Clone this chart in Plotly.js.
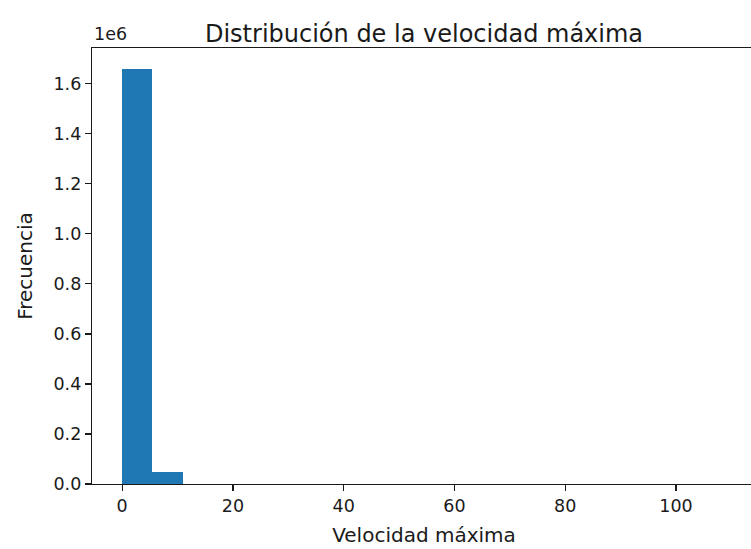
<!DOCTYPE html>
<html>
<head>
<meta charset="utf-8">
<script src="https://cdn.plot.ly/plotly-3.0.1.min.js"></script>
<style>
  html, body { margin: 0; padding: 0; background: #fff; overflow: hidden; }
  #chart { width: 760px; height: 549px; }
</style>
</head>
<body>
<div id="chart"></div>
<script>
// Histogram of maximum speed: 20 equal-width bins
const binStart = 0;
const binWidth = 5.45;
const binCounts = [1660000, 49000, 600, 250, 120, 60, 30, 20, 12, 8,
                   6, 4, 3, 2, 2, 1, 1, 1, 0, 1];

const yTickVals = [0, 200000, 400000, 600000, 800000, 1000000, 1200000, 1400000, 1600000];
const yTickText = ["0.0", "0.2", "0.4", "0.6", "0.8", "1.0", "1.2", "1.4", "1.6"];
const xTickVals = [0, 20, 40, 60, 80, 100];
const xTickText = ["0", "20", "40", "60", "80", "100"];

const titleText = "Distribución de la velocidad máxima";
const xTitle = "Velocidad máxima";
const yTitle = "Frecuencia";
const yExponent = "1e6";

const centers = binCounts.map((_, i) => binStart + binWidth * (i + 0.5));
const nBins = binCounts.length;
const dataMin = binStart;
const dataMax = binStart + binWidth * nBins;
const pad = 0.05 * (dataMax - dataMin);
const yMax = Math.max(...binCounts) * 1.05;

const font = "DejaVu Sans, sans-serif";
const ink = "#1a1a1a";
const tickSize = 17.5;
const labelSize = 20;
const titleSize = 24;

const trace = {
  type: "bar",
  x: centers,
  y: binCounts,
  width: binWidth,
  marker: { color: "#1f77b4", line: { width: 0 } },
  hoverinfo: "x+y"
};

const layout = {
  width: 760,
  height: 549,
  margin: { l: 92, r: 4, t: 48, b: 65 },
  paper_bgcolor: "#fff",
  plot_bgcolor: "#fff",
  showlegend: false,
  bargap: 0,
  font: { family: font, color: ink, size: tickSize },
  title: {
    text: titleText,
    font: { family: font, size: titleSize, color: ink },
    x: 0.5, xref: "paper", xanchor: "center",
    y: 1, yref: "paper", yanchor: "bottom", pad: { b: 6 }
  },
  xaxis: {
    range: [dataMin - pad, dataMax + pad],
    tickmode: "array", tickvals: xTickVals, ticktext: xTickText,
    ticks: "outside", ticklen: 6, tickwidth: 1.2, tickcolor: ink,
    showgrid: false, zeroline: false,
    showline: true, linecolor: ink, linewidth: 1.2, mirror: true,
    tickfont: { family: font, size: tickSize, color: ink },
    title: { text: xTitle, font: { family: font, size: labelSize, color: ink }, standoff: 12 }
  },
  yaxis: {
    range: [0, yMax],
    tickmode: "array", tickvals: yTickVals, ticktext: yTickText,
    ticks: "outside", ticklen: 6, tickwidth: 1.2, tickcolor: ink,
    showgrid: false, zeroline: false,
    showline: true, linecolor: ink, linewidth: 1.2, mirror: true,
    tickfont: { family: font, size: tickSize, color: ink },
    title: { text: yTitle, font: { family: font, size: labelSize, color: ink }, standoff: 15 }
  },
  annotations: [{
    text: yExponent, xref: "paper", yref: "paper",
    x: 0, y: 1, xanchor: "left", yanchor: "bottom", yshift: 2,
    showarrow: false, font: { family: font, size: tickSize, color: ink }
  }]
};

Plotly.newPlot("chart", [trace], layout, { displayModeBar: false, staticPlot: true });
</script>
</body>
</html>
